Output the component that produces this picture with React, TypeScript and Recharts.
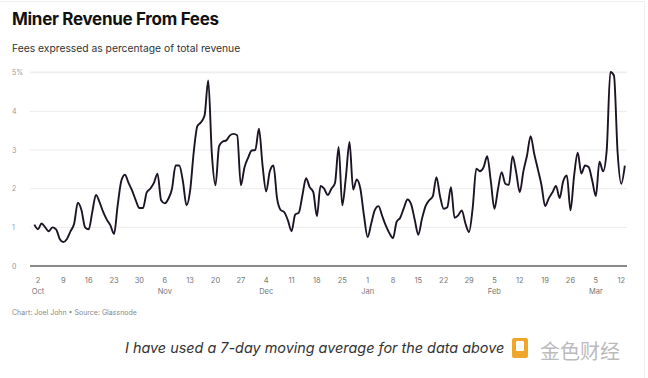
import { LineChart, Line, XAxis, YAxis, CartesianGrid, ReferenceLine } from "recharts";

// 7-day moving average of miner fee share (%), one value per day starting Oct 1
const feeShare = [
  1.07, 0.95, 1.1, 1.0, 0.9, 1.0, 0.95, 0.7, 0.62, 0.7,
  0.9, 1.1, 1.64, 1.45, 1.0, 0.95, 1.4, 1.84, 1.65, 1.4,
  1.2, 1.05, 0.83, 1.57, 2.2, 2.36, 2.15, 1.95, 1.7, 1.5,
  1.5, 1.9, 2.0, 2.15, 2.39, 1.7, 1.62, 1.74, 2.0, 2.6,
  2.6, 2.2, 1.57, 1.95, 2.95, 3.62, 3.72, 3.9, 4.8, 2.9,
  2.09, 3.1, 3.22, 3.25, 3.38, 3.42, 3.38, 2.09, 2.55, 2.8,
  2.99, 3.0, 3.55, 2.6, 1.93, 2.45, 2.6, 1.75, 1.45, 1.39,
  1.18, 0.9, 1.33, 1.38, 1.83, 2.27, 2.04, 1.91, 1.29, 2.07,
  2.0, 1.84, 2.0, 2.15, 3.08, 1.57, 2.3, 3.21, 1.98, 2.24,
  2.0, 1.3, 0.75, 1.1, 1.45, 1.55, 1.3, 1.05, 0.85, 0.72,
  1.14, 1.25, 1.5, 1.72, 1.6, 1.2, 0.81, 1.22, 1.55, 1.7,
  1.81, 2.3, 1.8, 1.48, 1.52, 2.04, 1.25, 1.31, 1.44, 1.1,
  0.88, 1.5, 2.52, 2.45, 2.55, 2.84, 2.2, 1.48, 2.0, 2.43,
  2.13, 2.1, 2.84, 2.43, 1.91, 2.45, 2.86, 3.36, 2.9, 2.5,
  2.09, 1.55, 1.75, 1.9, 2.07, 1.76, 2.2, 2.34, 1.44, 2.34,
  2.93, 2.39, 2.6, 2.56, 2.21, 1.81, 2.7, 2.45, 3.0, 5.02,
  4.93, 2.95, 2.13, 2.6,
];

// weekly ticks (day index from Oct 1) and their labels
const tickDays = [1, 8, 15, 22, 29, 36, 43, 50, 57, 64, 71, 78, 85, 92, 99, 106, 113, 120, 127, 134, 141, 148, 155, 162];
const tickLabels = ["2", "9", "16", "23", "30", "6", "13", "20", "27", "4", "11", "18", "25", "1", "8", "15", "22", "29", "5", "12", "19", "26", "5", "12"];
const monthLabels: Record<number, string> = { 1: "Oct", 36: "Nov", 64: "Dec", 92: "Jan", 127: "Feb", 155: "Mar" };
const yTicks = [0, 1, 2, 3, 4, 5];

const data = feeShare.map((v, i) => ({ day: i, fee: v }));

const FONT = "Inter, 'Noto Sans', sans-serif";

function XTick(props: any) {
  const { x, y, payload } = props;
  const idx = tickDays.indexOf(payload.value);
  const month = monthLabels[payload.value];
  return (
    <g>
      <text x={x} y={y + 9} textAnchor="middle" fontSize={7.5} fill="#777" fontFamily={FONT}>
        {tickLabels[idx]}
      </text>
      {month && (
        <text x={x} y={y + 20} textAnchor="middle" fontSize={7.5} fill="#777" fontFamily={FONT}>
          {month}
        </text>
      )}
    </g>
  );
}

function YTick(props: any) {
  const { y, payload } = props;
  return (
    <text x={12} y={y + 2.5} textAnchor="start" fontSize={7} fill="#999" fontFamily={FONT}>
      {payload.value === 5 ? "5%" : payload.value}
    </text>
  );
}

export default function App() {
  return (
    <div
      style={{
        position: "absolute",
        left: 0,
        top: 0,
        width: 648,
        height: 378,
        background: "#fff",
        fontFamily: FONT,
        overflow: "hidden",
      }}
    >
      <div style={{ position: "absolute", left: 0, top: 1, width: 644, height: 377, borderTop: "1px solid #eee", borderRight: "1px solid #eee" }} />
      <div style={{ position: "absolute", left: 12, top: 9, fontSize: 17, fontWeight: 700, color: "#111", letterSpacing: -0.3 }}>
        Miner Revenue From Fees
      </div>
      <div style={{ position: "absolute", left: 12, top: 42, fontSize: 10.3, color: "#333" }}>
        Fees expressed as percentage of total revenue
      </div>
      <div style={{ position: "absolute", left: 0, top: 0 }}>
        <LineChart width={640} height={304} data={data} margin={{ top: 72, right: 13, left: 0, bottom: 8 }}>
          <CartesianGrid stroke="#ececec" vertical={false} />
          <XAxis
            dataKey="day"
            type="number"
            domain={[-1.2, 163.6]}
            ticks={tickDays}
            interval={0}
            tick={<XTick />}
            tickLine={false}
            axisLine={false}
            height={30}
          />
          <YAxis
            domain={[0, 5]}
            ticks={yTicks}
            tick={<YTick />}
            tickLine={false}
            axisLine={false}
            width={30}
          />
          <ReferenceLine y={0} stroke="#8a8a8a" strokeWidth={2} />
          <Line
            type="monotone"
            dataKey="fee"
            stroke="#1c1424"
            strokeWidth={1.9}
            dot={false}
            isAnimationActive={false}
          />
        </LineChart>
      </div>
      <div style={{ position: "absolute", left: 12, top: 308, fontSize: 7, color: "#888" }}>
        Chart: Joel John • Source: Glassnode
      </div>
      <div style={{ position: "absolute", left: 125, top: 339, fontSize: 14.4, fontStyle: "italic", color: "#333", whiteSpace: "nowrap" }}>
        I have used a 7-day moving average for the data above
      </div>
      <div style={{ position: "absolute", left: 512, top: 338, width: 16, height: 20, background: "#f0a62a", borderRadius: 2 }}>
        <div style={{ position: "absolute", left: 4, top: 3, width: 8, height: 10, background: "#fff", borderRadius: 1 }} />
      </div>
      <div style={{ position: "absolute", left: 540, top: 336, fontSize: 20, color: "#bbb", fontFamily: "'Noto Sans CJK SC', sans-serif" }}>
        金色财经
      </div>
    </div>
  );
}
